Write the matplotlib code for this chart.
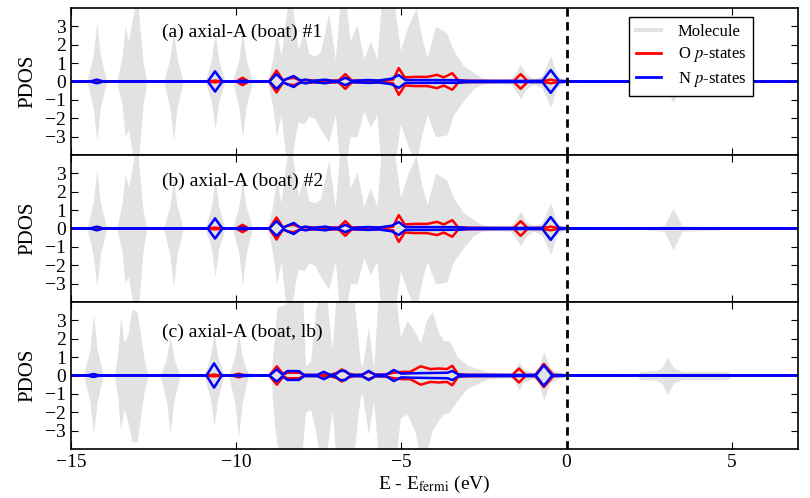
import matplotlib
matplotlib.use("Agg")
import matplotlib.pyplot as plt
from matplotlib.lines import Line2D
import numpy as np

plt.rcParams.update({
    "font.family": "serif",
    "font.serif": ["Liberation Serif", "DejaVu Serif"],
    "mathtext.fontset": "stix",
    "font.size": 14,
    "xtick.direction": "in",
    "ytick.direction": "in",
    "xtick.top": True,
    "ytick.right": True,
    "xtick.major.size": 5,
    "ytick.major.size": 5,
    "xtick.labelsize": 14,
    "ytick.labelsize": 14,
    "axes.linewidth": 1.2,
})

# ---------------- data ----------------
panel_labels = ["(a) axial-A (boat) #1", "(b) axial-A (boat) #2", "(c) axial-A (boat, lb)"]
label_y = [2.65, 2.57, 2.37]
label_x = -12.26

xticks = [-15, -10, -5, 0, 5]
yticks = [-3, -2, -1, 0, 1, 2, 3]

# Molecule PDOS: (energy eV, spin-up, spin-down magnitude)
mol_a = [
    (-15.00, 0, 0), (-14.52, 0, 0), (-14.33, 1.4, 1.4), (-14.22, 3.2, 3.2),
    (-14.11, 1.4, 1.4), (-13.92, 0, 0), (-13.62, 0, 0), (-13.46, 1.3, 1.2),
    (-13.36, 3.0, 3.0), (-13.26, 2.2, 2.6), (-13.12, 3.6, 4.2), (-13.01, 5.0, 5.0),
    (-12.92, 3.0, 3.5), (-12.82, 1.0, 1.2), (-12.70, 0, 0), (-12.20, 0, 0),
    (-12.01, 1.2, 1.4), (-11.90, 2.76, 3.2), (-11.79, 1.2, 1.4), (-11.60, 0, 0),
    (-10.94, 0, 0), (-10.75, 1.2, 1.1), (-10.64, 2.67, 2.6), (-10.53, 1.2, 1.1),
    (-10.34, 0, 0), (-10.11, 0, 0), (-9.92, 1.2, 1.35), (-9.81, 2.67, 3.1),
    (-9.70, 1.2, 1.35), (-9.51, 0, 0), (-9.05, 0, 0), (-8.90, 1.2, 1.3),
    (-8.78, 2.7, 3.0), (-8.64, 1.4, 1.8), (-8.50, 3.5, 4.2), (-8.36, 5.0, 5.0),
    (-8.22, 3.0, 3.0), (-8.12, 1.8, 2.2), (-7.95, 2.75, 2.3), (-7.80, 1.5, 1.9),
    (-7.62, 1.4, 2.0), (-7.45, 1.6, 2.6), (-7.20, 3.7, 3.3), (-7.00, 1.2, 1.8),
    (-6.85, 4.5, 5.0), (-6.72, 5.0, 5.0), (-6.55, 2.2, 3.0), (-6.34, 3.1, 3.0),
    (-6.14, 1.2, 1.6), (-5.94, 2.2, 2.5), (-5.74, 1.2, 1.8), (-5.60, 4.5, 5.0),
    (-5.40, 5.0, 5.0), (-5.20, 4.0, 4.5), (-5.03, 1.7, 2.3), (-4.80, 3.0, 3.5),
    (-4.55, 4.0, 4.5), (-4.40, 2.5, 3.0), (-4.22, 1.3, 1.8), (-3.97, 3.0, 3.0),
    (-3.72, 2.76, 2.95), (-3.62, 2.6, 2.9), (-3.42, 1.67, 1.8), (-3.12, 0.85, 1.05),
    (-2.82, 0.5, 0.4), (-2.56, 0.2, 0.15), (-2.30, 0.1, 0.1), (-2.00, 0.12, 0.12),
    (-1.70, 0.15, 0.15), (-1.55, 0.45, 0.5), (-1.39, 0.95, 0.95), (-1.24, 0.4, 0.45),
    (-1.00, 0.15, 0.15), (-0.75, 0.3, 0.35), (-0.48, 1.4, 1.4), (-0.30, 0.35, 0.35),
    (-0.10, 0.08, 0.08), (0.20, 0.03, 0.03), (2.20, 0.03, 0.03), (2.40, 0.08, 0.08),
    (2.95, 0.15, 0.15), (3.22, 1.1, 1.15), (3.50, 0.15, 0.15), (4.60, 0.08, 0.08),
    (4.95, 0.03, 0.03), (7.00, 0, 0),
]
mol_b = list(mol_a)  # panel (b) molecule PDOS looks identical to (a)
mol_c = [
    (-15.00, 0, 0), (-14.62, 0, 0), (-14.43, 1.4, 1.4), (-14.32, 3.33, 3.2),
    (-14.21, 1.4, 1.4), (-14.02, 0, 0), (-13.68, 0, 0), (-13.58, 1.4, 1.3),
    (-13.50, 3.24, 3.0), (-13.40, 1.8, 1.8), (-13.28, 2.2, 2.5), (-13.16, 3.6, 3.6),
    (-13.00, 3.5, 3.6), (-12.88, 2.0, 2.0), (-12.78, 0.8, 0.8), (-12.66, 0, 0),
    (-12.30, 0, 0), (-12.11, 0.95, 1.4), (-12.00, 2.1, 3.2), (-11.89, 0.95, 1.4),
    (-11.70, 0, 0), (-10.97, 0, 0), (-10.78, 1.05, 1.25), (-10.67, 2.33, 2.76),
    (-10.56, 1.05, 1.25), (-10.37, 0, 0), (-10.23, 0, 0), (-10.04, 1.05, 1.5),
    (-9.93, 2.33, 3.3), (-9.82, 1.05, 1.5), (-9.63, 0, 0), (-8.95, 0, 0),
    (-8.85, 2.0, 2.5), (-8.77, 3.7, 3.7), (-8.50, 3.9, 5.0), (-8.30, 5.0, 5.0),
    (-8.00, 5.0, 4.0), (-7.90, 0.5, 2.0), (-7.75, 0.8, 1.85), (-7.60, 3.5, 3.0),
    (-7.40, 5.0, 5.0), (-7.25, 4.0, 4.0), (-7.10, 1.4, 1.9), (-6.95, 5.0, 5.0),
    (-6.70, 5.0, 5.0), (-6.45, 4.5, 4.5), (-6.25, 0.8, 1.2), (-6.18, 0.5, 1.0),
    (-6.00, 2.65, 3.2), (-5.84, 0.4, 1.35), (-5.70, 4.5, 4.5), (-5.45, 5.0, 5.0),
    (-5.20, 4.8, 5.0), (-5.03, 2.1, 2.3), (-4.83, 3.0, 2.1), (-4.60, 2.4, 3.0),
    (-4.42, 1.75, 4.5), (-4.25, 3.0, 4.2), (-4.07, 3.47, 3.0), (-3.87, 2.3, 2.4),
    (-3.72, 1.9, 2.1), (-3.55, 1.9, 2.0), (-3.31, 1.0, 1.35), (-3.00, 0.56, 0.7),
    (-2.70, 0.38, 0.44), (-2.40, 0.2, 0.2), (-2.00, 0.15, 0.15), (-1.65, 0.15, 0.15),
    (-1.55, 0.4, 0.4), (-1.44, 0.75, 0.8), (-1.30, 0.35, 0.35), (-1.00, 0.15, 0.15),
    (-0.85, 0.4, 0.4), (-0.69, 1.3, 1.35), (-0.50, 0.4, 0.4), (-0.30, 0.2, 0.2),
    (-0.05, 0.05, 0.05), (2.10, 0.03, 0.03), (2.25, 0.22, 0.22), (2.70, 0.25, 0.25),
    (2.90, 0.45, 0.45), (3.05, 0.98, 1.04), (3.25, 0.4, 0.4), (3.50, 0.22, 0.22),
    (4.60, 0.22, 0.22), (4.90, 0.2, 0.2), (5.00, 0.03, 0.03), (7.00, 0, 0),
]

# O p-states: (energy eV, magnitude; spin-down drawn negative)
o_a = [
    (-15.0, 0), (-10.84, 0), (-10.64, 0.05), (-10.44, 0), (-10.0, 0), (-9.81, 0.2),
    (-9.62, 0), (-9.0, 0), (-8.78, 0.6), (-8.58, 0.05), (-8.45, 0.15), (-8.26, 0.2),
    (-8.06, 0.05), (-7.9, 0.08), (-7.5, 0.03), (-7.3, 0.05), (-6.9, 0.05), (-6.7, 0.4),
    (-6.5, 0.05), (-6.0, 0.05), (-5.5, 0.05), (-5.25, 0.1), (-5.08, 0.73), (-4.9, 0.22),
    (-4.6, 0.25), (-4.22, 0.25), (-3.92, 0.36), (-3.72, 0.22), (-3.46, 0.45),
    (-3.28, 0.06), (-3.0, 0.04), (-2.6, 0.03), (-1.6, 0.02), (-1.39, 0.4),
    (-1.18, 0.02), (-0.7, 0.03), (-0.48, 0.1), (-0.25, 0.02), (0.2, 0.01), (7.0, 0),
]
o_b = list(o_a)
o_c = [
    (-15.0, 0), (-10.87, 0), (-10.67, 0.05), (-10.47, 0), (-10.13, 0), (-9.93, 0.1),
    (-9.73, 0), (-9.0, 0), (-8.77, 0.5), (-8.57, 0.05), (-8.45, 0.15), (-8.1, 0.15),
    (-7.95, 0.03), (-7.55, 0.03), (-7.35, 0.05), (-7.15, 0.03), (-6.95, 0.15),
    (-6.8, 0.33), (-6.6, 0.1), (-6.4, 0.03), (-6.19, 0.05), (-5.99, 0.2), (-5.79, 0.05),
    (-5.5, 0.05), (-5.23, 0.15), (-4.95, 0.2), (-4.73, 0.2), (-4.42, 0.5),
    (-4.12, 0.35), (-3.87, 0.38), (-3.62, 0.35), (-3.46, 0.53), (-3.28, 0.06),
    (-3.0, 0.04), (-1.65, 0.02), (-1.44, 0.38), (-1.24, 0.02), (-0.95, 0.03),
    (-0.69, 0.63), (-0.4, 0.03), (0.2, 0.01), (7.0, 0),
]

# N p-states: (energy eV, magnitude; spin-down drawn negative)
n_a = [
    (-15.0, 0), (-14.42, 0), (-14.22, 0.1), (-14.02, 0), (-10.86, 0), (-10.64, 0.55),
    (-10.42, 0), (-10.0, 0), (-9.81, 0.05), (-9.6, 0), (-9.0, 0), (-8.78, 0.4),
    (-8.58, 0.05), (-8.26, 0.3), (-8.06, 0.05), (-7.9, 0.1), (-7.7, 0.03), (-7.3, 0.1),
    (-7.1, 0.03), (-6.9, 0.03), (-6.7, 0.2), (-6.5, 0.03), (-6.3, 0.05), (-6.0, 0.08),
    (-5.7, 0.05), (-5.3, 0.15), (-5.08, 0.35), (-4.88, 0.08), (-3.3, 0.07),
    (-3.0, 0.03), (-1.6, 0.03), (-0.73, 0.03), (-0.48, 0.62), (-0.23, 0.03),
    (0.2, 0.01), (7.0, 0),
]
n_b = list(n_a)
n_c = [
    (-15.0, 0), (-14.52, 0), (-14.32, 0.08), (-14.12, 0), (-10.9, 0), (-10.67, 0.66),
    (-10.44, 0), (-10.0, 0), (-9.93, 0.03), (-9.0, 0), (-8.77, 0.33), (-8.6, 0.05),
    (-8.45, 0.24), (-8.1, 0.24), (-7.95, 0.03), (-7.55, 0.03), (-7.35, 0.2),
    (-7.15, 0.03), (-7.0, 0.05), (-6.85, 0.25), (-6.7, 0.25), (-6.55, 0.03),
    (-6.19, 0.03), (-5.99, 0.25), (-5.79, 0.03), (-5.45, 0.05), (-5.23, 0.3),
    (-5.0, 0.1), (-4.7, 0.12), (-3.6, 0.15), (-3.46, 0.25), (-3.28, 0.05),
    (-3.0, 0.03), (-1.6, 0.03), (-0.92, 0.03), (-0.69, 0.56), (-0.45, 0.03),
    (0.2, 0.01), (7.0, 0),
]

mols = [mol_a, mol_b, mol_c]
oxs = [o_a, o_b, o_c]
nis = [n_a, n_b, n_c]

mol_color = "#e2e2e2"

# ---------------- plot ----------------
fig, axes = plt.subplots(3, 1, figsize=(8.1, 4.98), dpi=100, sharex=True)
fig.subplots_adjust(left=0.0877, right=0.985, top=0.984, bottom=0.0984, hspace=0)

for i, ax in enumerate(axes):
    m = np.array(mols[i], dtype=float)
    ax.fill_between(m[:, 0], 0, m[:, 1], color=mol_color, lw=0)
    ax.fill_between(m[:, 0], -m[:, 2], 0, color=mol_color, lw=0)
    o = np.array(oxs[i], dtype=float)
    ax.plot(o[:, 0], o[:, 1], color="r", lw=1.8)
    ax.plot(o[:, 0], -o[:, 1], color="r", lw=1.8)
    n = np.array(nis[i], dtype=float)
    ax.plot(n[:, 0], n[:, 1], color="b", lw=1.8)
    ax.plot(n[:, 0], -n[:, 1], color="b", lw=1.8)
    ax.axvline(0, color="k", lw=2, ls=(0, (3, 2)))
    ax.set_xlim(-15, 7)
    ax.set_ylim(-4, 4)
    ax.set_yticks(yticks)
    ax.set_xticks(xticks)
    ax.set_ylabel("PDOS", fontsize=15, labelpad=6)
    ax.text(label_x, label_y[i], panel_labels[i], fontsize=14, va="center", ha="left")

axes[-1].set_xlabel(r"E - E$_{\rm fermi}$ (eV)", fontsize=14, labelpad=2)

handles = [
    Line2D([], [], color=mol_color, lw=3),
    Line2D([], [], color="r", lw=2),
    Line2D([], [], color="b", lw=2),
]
labels = ["Molecule", r"O $p$-states", r"N $p$-states"]
leg = axes[0].legend(handles, labels, loc="upper right", bbox_to_anchor=(0.938, 0.939),
                     borderaxespad=0, fancybox=False, edgecolor="k", framealpha=1,
                     fontsize=12, handlelength=1.5, handletextpad=1.0, labelspacing=0.35,
                     borderpad=0.4)
leg.get_frame().set_linewidth(1.0)

fig.savefig("out.png", dpi=100)
